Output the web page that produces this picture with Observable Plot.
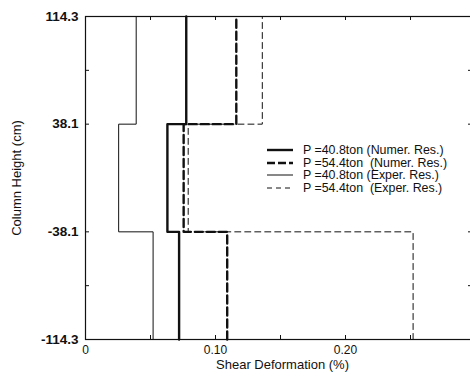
<!DOCTYPE html>
<html>
<head>
<meta charset="utf-8">
<script src="https://cdn.jsdelivr.net/npm/d3@7"></script>
<script src="https://cdn.jsdelivr.net/npm/@observablehq/plot@0.6"></script>
<style>
  html, body { margin: 0; padding: 0; background: #fff; }
  #wrap { position: relative; width: 470px; height: 376px; overflow: hidden; font-family: "Liberation Sans", Arial, sans-serif; }
  #legend { position: absolute; left: 267px; top: 144px; font-size: 12.4px; color: #111; }
  #legend .row { display: flex; align-items: center; height: 12.5px; white-space: pre; }
  #legend svg { width: 26px; height: 8px; margin-right: 10px; }
</style>
</head>
<body>
<div id="wrap"><div id="legend"></div></div>
<script>
// Segment boundaries (column height, cm)
const heights = [-114.3, -38.1, 38.1, 114.3];
// Shear deformation (%) per segment: bottom, middle, top
const numer408 = [0.072, 0.063, 0.0775];
const numer544 = [0.109, 0.0755, 0.116];
const exper408 = [0.052, 0.0255, 0.039];
const exper544 = [0.252, 0.079, 0.136];
const seriesNames = [
  "P =40.8ton (Numer. Res.)",
  "P =54.4ton  (Numer. Res.)",
  "P =40.8ton (Exper. Res.)",
  "P =54.4ton  (Exper. Res.)"
];
const xTickLabels = [0, 0.10, 0.20];
const xMinorTicks = [0.05, 0.10, 0.15, 0.20, 0.25];
const yTickLabels = [-114.3, -38.1, 38.1, 114.3];
const yMinorTicks = [-76.2, -38.1, 38.1, 76.2];
const xTitle = "Shear Deformation (%)";
const yTitle = "Column Height (cm)";

const styles = [
  {strokeWidth: 2.4, dash: null},
  {strokeWidth: 2.4, dash: "8,4"},
  {strokeWidth: 1, dash: null},
  {strokeWidth: 1, dash: "6,4"}
];

function stepPoints(vals) {
  const pts = [];
  vals.forEach((v, i) => {
    pts.push({x: v, y: heights[i]});
    pts.push({x: v, y: heights[i + 1]});
  });
  return pts;
}
const allSeries = [numer408, numer544, exper408, exper544];

const W = 470, H = 376, mL = 85, mT = 16, mB = 37, mR = -5;
const plotH = H - mT - mB, plotW = W - mL - mR;

const chart = Plot.plot({
  width: W, height: H,
  marginLeft: mL, marginTop: mT, marginBottom: mB, marginRight: mR,
  style: {fontFamily: "Liberation Sans, Arial, sans-serif", background: "white", color: "#111"},
  x: {domain: [0, 0.3]},
  y: {domain: [-114.3, 114.3]},
  marks: [
    Plot.frame({stroke: "#111", strokeWidth: 1.2}),
    Plot.axisY(yTickLabels, {tickSize: 0, tickPadding: 7, fontSize: 13.5, fontWeight: "bold",
      tickFormat: d => d.toFixed(1), label: null}),
    Plot.text([yTitle], {frameAnchor: "left", textAnchor: "middle", rotate: -90, dx: -69, fontSize: 13, fill: "#111"}),
    Plot.axisX(xTickLabels, {tickSize: 0, tickPadding: 6, fontSize: 12,
      fontWeight: d => d === 0 ? "bold" : "normal",
      tickFormat: d => d === 0 ? "0" : d.toFixed(2), label: null}),
    Plot.text([xTitle], {frameAnchor: "bottom", dy: 29.5, dx: 2, fontSize: 13, fill: "#111"}),
    Plot.tickX(xMinorTicks, {x: d => d, insetBottom: plotH - 4, stroke: "#111"}),
    Plot.tickX(xMinorTicks, {x: d => d, insetTop: plotH - 4, stroke: "#111"}),
    Plot.tickY(yMinorTicks, {y: d => d, insetRight: plotW - 4, stroke: "#111"}),
    Plot.tickY(yMinorTicks, {y: d => d, insetLeft: plotW - 7, stroke: "#111"}),
    ...allSeries.map((vals, i) => Plot.line(stepPoints(vals), {
      x: "x", y: "y", stroke: "#111", strokeWidth: styles[i].strokeWidth,
      strokeDasharray: styles[i].dash, curve: "linear"
    }))
  ]
});
document.getElementById("wrap").prepend(chart);

const legend = document.getElementById("legend");
seriesNames.forEach((name, i) => {
  const row = document.createElement("div");
  row.className = "row";
  const dash = styles[i].dash ? `stroke-dasharray="${i === 1 ? '8,3' : '5,4'}"` : "";
  row.innerHTML = `<svg viewBox="0 0 26 8"><line x1="0" y1="4" x2="26" y2="4" stroke="#111" stroke-width="${styles[i].strokeWidth}" ${dash}/></svg><span>${name}</span>`;
  legend.appendChild(row);
});
</script>
</body>
</html>
